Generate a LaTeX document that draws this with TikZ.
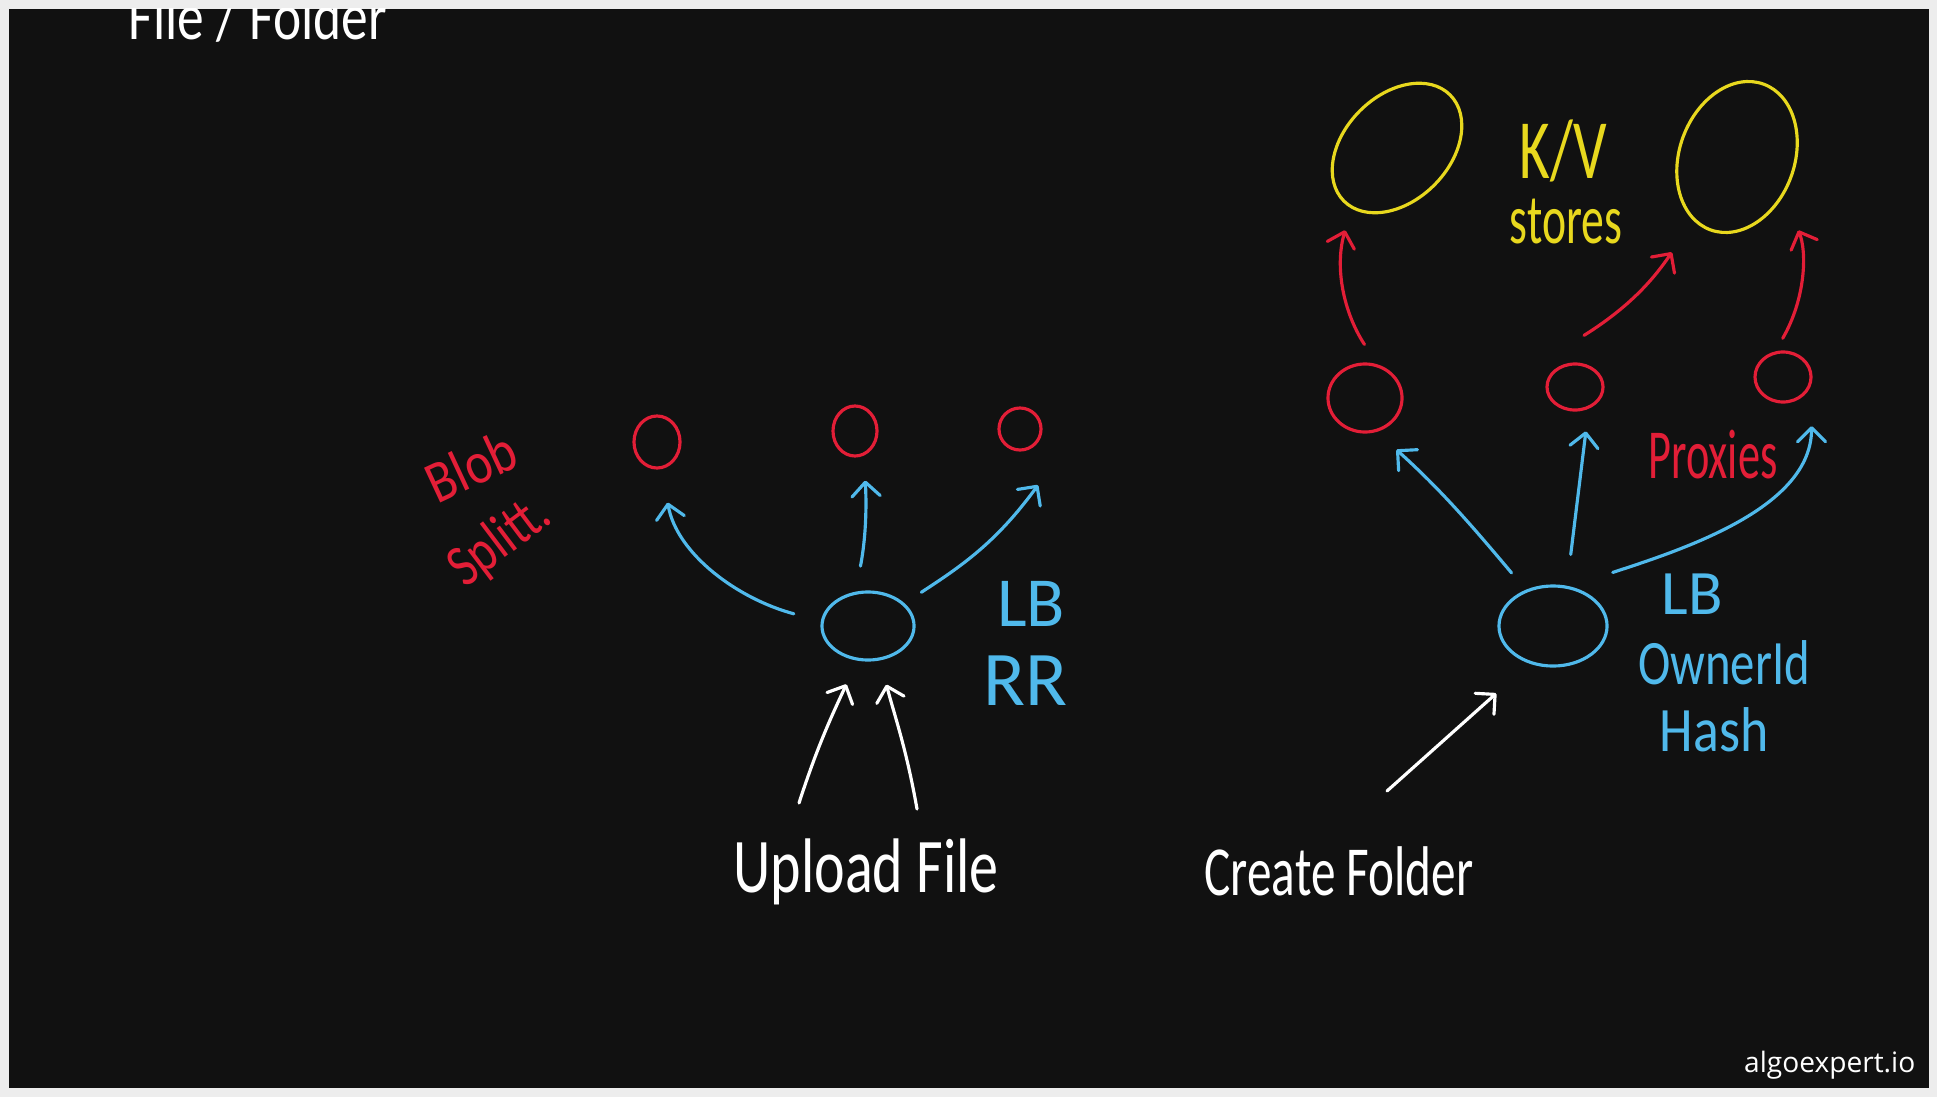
\documentclass[tikz,border=0pt]{standalone}
\usepackage{fontspec}
\setmainfont{Carlito}
\newfontfamily\markfont{Open Sans}
\usetikzlibrary{arrows.meta,shapes.geometric}

\definecolor{board}{HTML}{111111}
\definecolor{frame}{HTML}{EDEDED}
\definecolor{penblue}{HTML}{50B9EB}
\definecolor{penred}{HTML}{E31E37}
\definecolor{penyellow}{HTML}{E8D81E}

\newcommand{\pensize}[1]{\fontsize{#1}{#1}\selectfont}

\tikzset{
  pen/.style={line width=0.9pt, line cap=round, line join=round},
  bubble/.style={pen, ellipse, draw=#1, inner sep=0pt},
  arr/.style={pen, draw=#1, -{Straight Barb[length=4pt,width=8pt,round]}},
  hand/.style={text=#1, inner sep=0pt},
}

\begin{document}
\begin{tikzpicture}[x=0.01cm, y=0.01cm]
        \useasboundingbox (0, 0) rectangle (1937, -1097);
        \fill[frame] (0, 0) rectangle (1937, -1097);
        \fill[board] (9, -9) rectangle (1929, -1088);
        \begin{scope}
            \clip (9, -9) rectangle (1929, -1088);
            \node[hand=white, font=\pensize{19}, xscale=.8, anchor=base] (title) at (258, -40) {File / Folder};

            \node[bubble=penred, minimum width=0.46cm, minimum height=0.52cm] (blob1) at (657, -442) {};
            \node[bubble=penred, minimum width=0.44cm, minimum height=0.50cm] (blob2) at (855, -431) {};
            \node[bubble=penred, minimum width=0.42cm, minimum height=0.42cm] (blob3) at (1020, -429) {};
            \node[bubble=penblue, minimum width=0.92cm, minimum height=0.68cm] (lb1) at (868, -626) {};
            \node[hand=penred, font=\pensize{17}, rotate=25, xscale=.85] (blob) at (471, -466) {Blob};
            \node[hand=penred, font=\pensize{17}, rotate=37, xscale=.8] (split) at (500, -542) {Splitt.};
            \node[hand=penblue, font=\pensize{20}] (lbtag1) at (1031, -604) {LB};
            \node[hand=penblue, font=\pensize{22}] (rr) at (1025, -681) {RR};
            \node[hand=white, font=\pensize{22}, xscale=.75] (upload) at (866, -872) {Upload File};
            \coordinate (upL) at (799, -803);
            \coordinate (upR) at (917, -809);

            \draw[arr=penblue, shorten <=0.28cm, shorten >=0.34cm] (lb1.174) to[out=165, in=-80] (blob1.-80);
            \draw[arr=penblue, shorten <=0.26cm, shorten >=0.25cm] (lb1.110) to[out=79, in=-87] (blob2.-70);
            \draw[arr=penblue, shorten <=0.2cm] (lb1.32) to[out=33, in=-126] ([xshift=0.18cm, yshift=-0.56cm]blob3.center);
            \draw[arr=white, shorten >=0.26cm] (upL) to[out=72, in=-115] (lb1.-107);
            \draw[arr=white, shorten >=0.25cm] (upR) to[out=100, in=-75] (lb1.-71);

            \node[bubble=penyellow, minimum width=1.5cm, minimum height=1.05cm, rotate=45] (kv1) at (1397, -148) {};
            \node[bubble=penyellow, minimum width=1.55cm, minimum height=1.15cm, rotate=70] (kv2) at (1737, -157) {};
            \node[hand=penyellow, font=\pensize{24}, xscale=.7] (kvtag) at (1563, -151) {K/V};
            \node[hand=penyellow, font=\pensize{20}, xscale=.65] (stores) at (1566, -222) {stores};
            \node[bubble=penred, minimum width=0.74cm, minimum height=0.68cm] (prx1) at (1365, -398) {};
            \node[bubble=penred, minimum width=0.56cm, minimum height=0.46cm] (prx2) at (1575, -387) {};
            \node[bubble=penred, minimum width=0.56cm, minimum height=0.50cm] (prx3) at (1783, -377) {};
            \node[hand=penred, font=\pensize{20}, xscale=.63] (proxies) at (1713, -455) {Proxies};
            \node[bubble=penblue, minimum width=1.08cm, minimum height=0.80cm] (lb2) at (1553, -626) {};
            \node[hand=penblue, font=\pensize{18}] (lbtag2) at (1692, -594) {LB};
            \node[hand=penblue, font=\pensize{18}, xscale=.77] (owner) at (1724, -663) {OwnerId};
            \node[hand=penblue, font=\pensize{18}, xscale=.85] (hash) at (1714, -730) {Hash};
            \node[hand=white, font=\pensize{20}, xscale=.7] (create) at (1339, -871) {Create Folder};
            \coordinate (cfT) at (1387, -791);

            \draw[arr=white, shorten >=0.445cm] (cfT) -- (lb2.-122);
            \draw[arr=penblue, shorten <=0.22cm, shorten >=0.265cm] (lb2.127) to[out=130, in=-42] (prx1.-71);
            \draw[arr=penblue, shorten <=0.315cm, shorten >=0.227cm] (lb2.71) -- (prx2.-58);
            \draw[arr=penblue, shorten <=0.45cm, shorten >=0.42cm] (lb2.67) to[out=18, in=-90] (prx3.-14);
            \draw[arr=penred, shorten <=0.236cm, shorten >=0.225cm] (prx1.70) to[out=123, in=-106] (kv1.188);
            \draw[arr=penred, shorten >=0.38cm] ([xshift=0.09cm, yshift=0.27cm]prx2.north) to[out=32, in=-125] (kv2.166);
            \draw[arr=penred, shorten <=0.15cm, shorten >=0.38cm] (prx3.107) to[out=60, in=-68] (kv2.-109);

            \node[text=white, font=\markfont\fontsize{8}{8}\selectfont, anchor=base east, inner sep=0pt] (brand) at (1916, -1072) {algoexpert.io};
        \end{scope}
\end{tikzpicture}
\end{document}
